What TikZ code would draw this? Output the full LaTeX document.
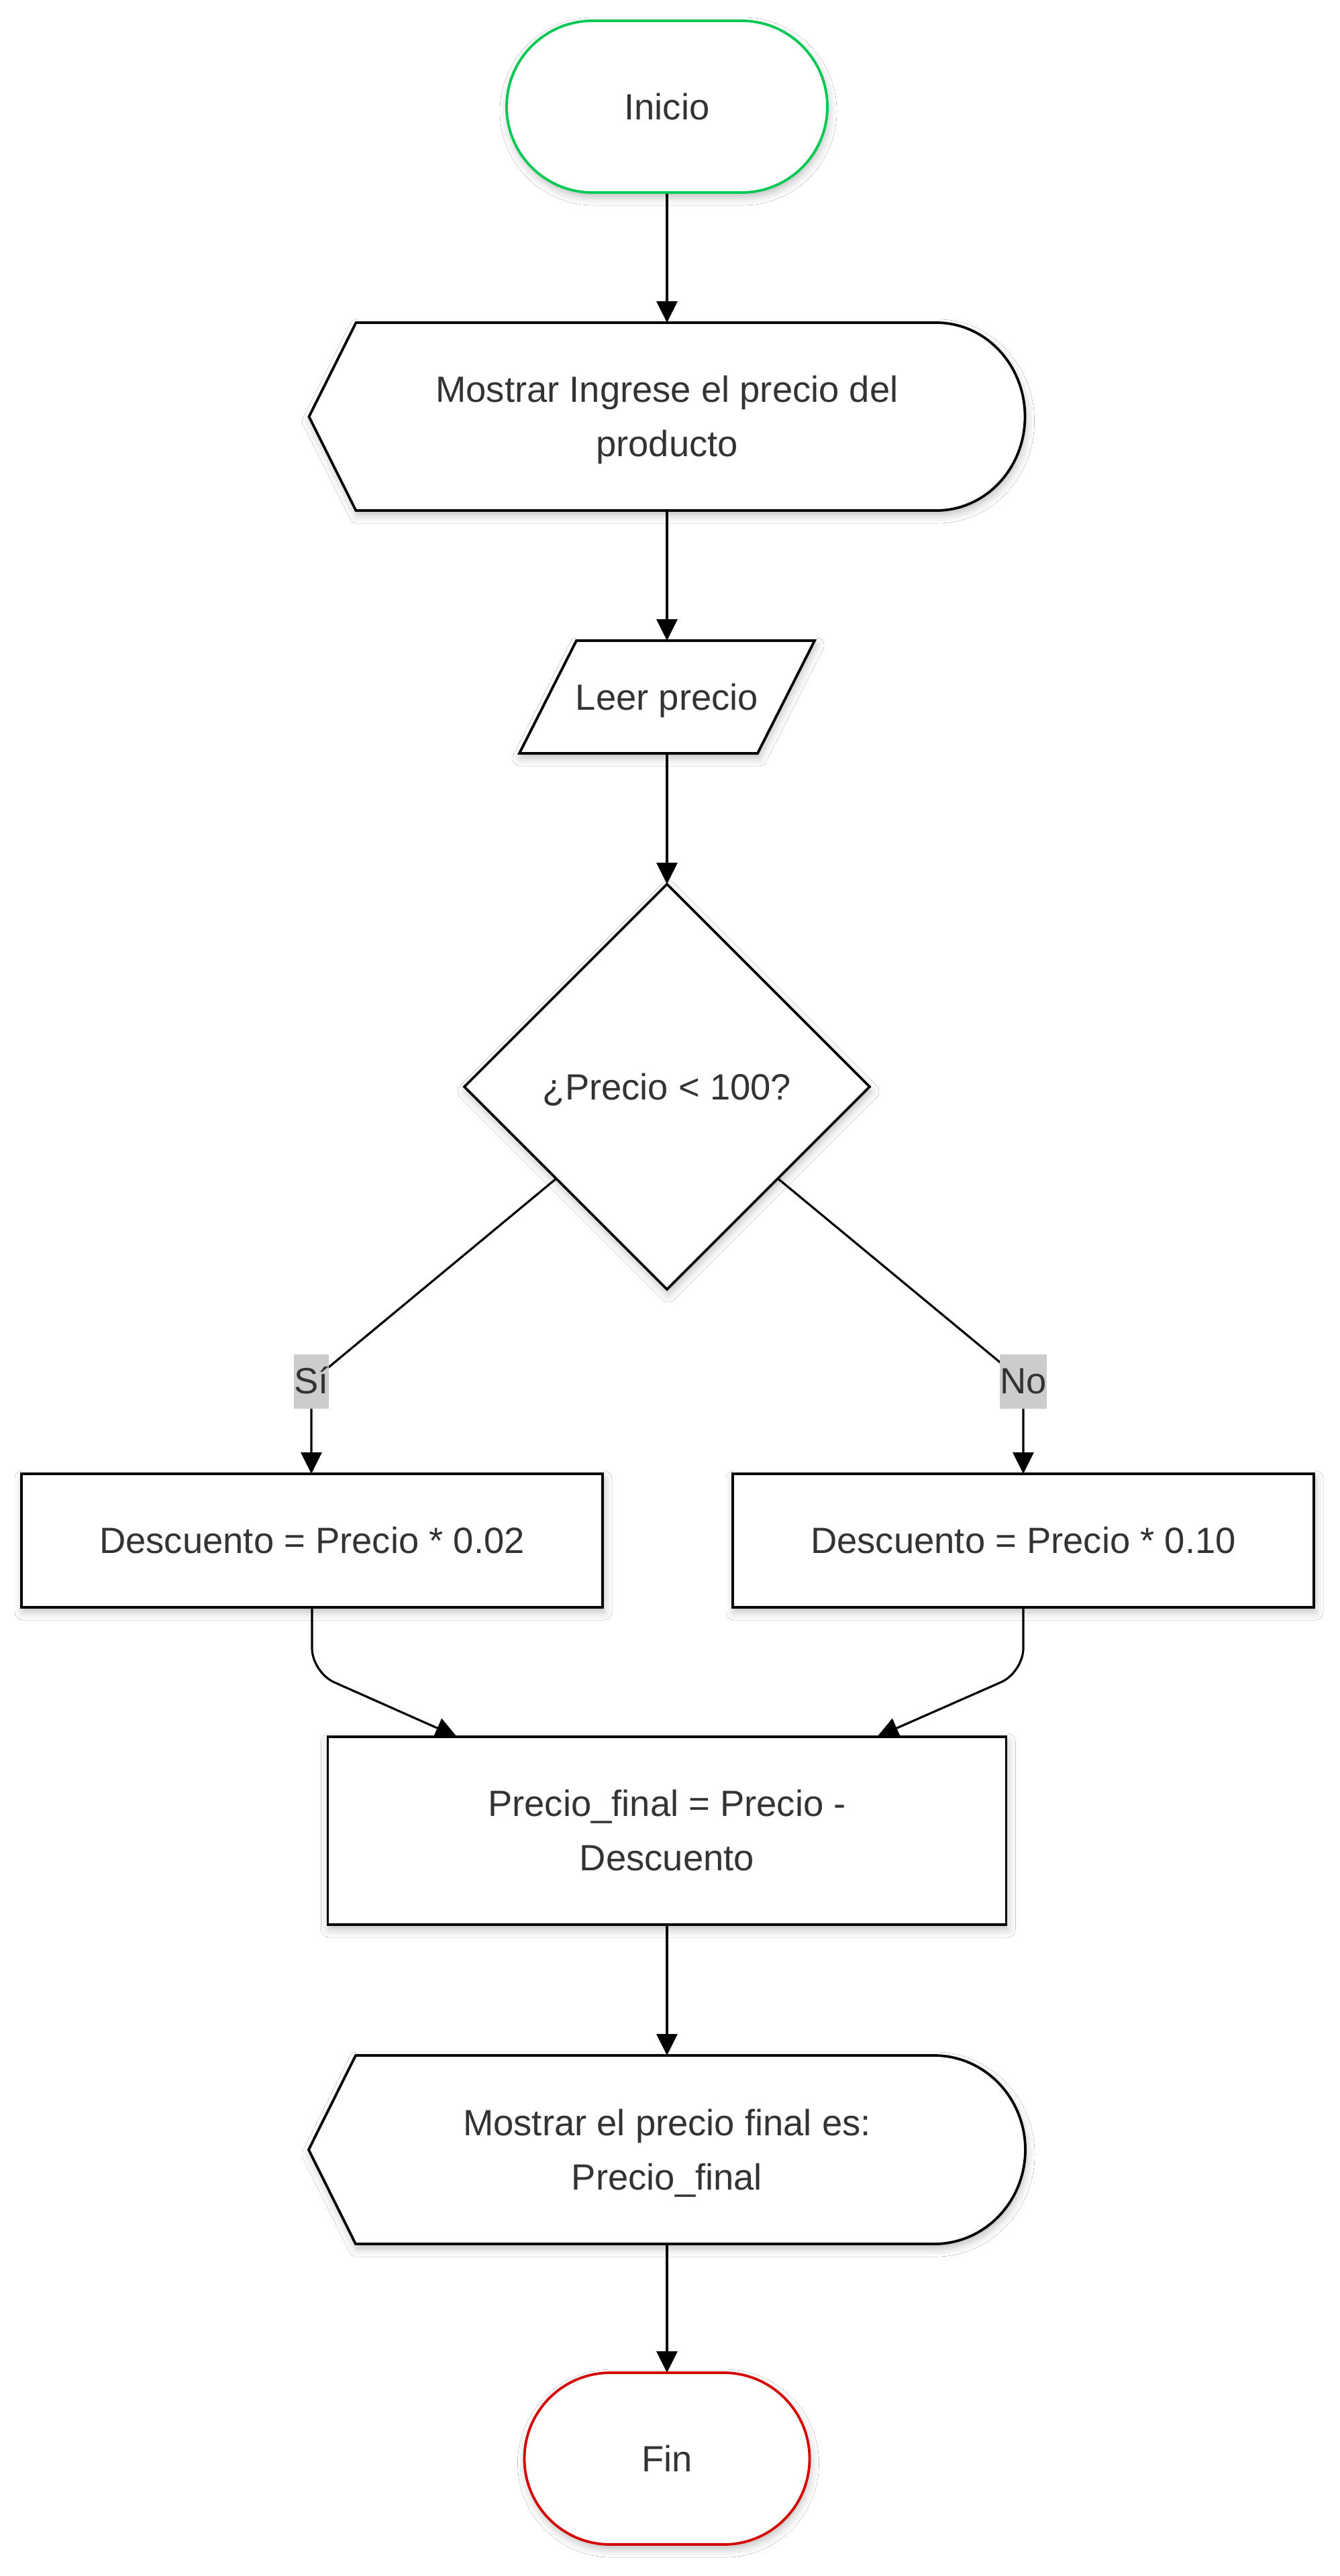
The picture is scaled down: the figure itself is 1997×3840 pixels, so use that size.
\documentclass[tikz,border=0pt]{standalone}
\usepackage{fontspec}
\setmainfont{Liberation Sans}
\usetikzlibrary{shapes.geometric,arrows.meta,shadows.blur,calc}
\pgfdeclarelayer{bglayer}
\pgfdeclarelayer{edgelayer}
\pgfsetlayers{bglayer,edgelayer,main}
\definecolor{txt}{HTML}{333333}
\definecolor{startc}{HTML}{00C853}
\definecolor{endc}{HTML}{D50000}
\definecolor{lblbg}{HTML}{CCCCCC}
\tikzset{
 nbase/.style={inner sep=0pt, outer sep=0pt, text=txt, font=\fontsize{27.2pt}{40.5pt}\selectfont, align=center},
 oneline/.style={text height=19.4pt, text depth=0pt},
 twoline/.style={text height=59.9pt, text depth=0pt},
 shd/.style={blur shadow={shadow xshift=1pt, shadow yshift=-3.5pt, shadow blur radius=6pt, shadow opacity=25}},
 term/.style={nbase, oneline, draw, line width=1.9pt, fill=white, rounded corners=64pt, shd},
 proc/.style={nbase, draw=black, line width=1.9pt, fill=white, shd},
 shapeoutline/.style={draw=black, line width=1.9pt, fill=white, line join=miter, shd},
 decision/.style={nbase, oneline, shape=diamond, aspect=1, draw=black, line width=1.9pt, fill=white, shd},
 conn/.style={draw=black, line width=1.6pt, -{Triangle[length=16pt,width=15.5pt]}},
 lbl/.style={nbase, fill=lblbg, text height=29pt, text depth=11.5pt},
}
\begin{document}
\begin{tikzpicture}[x=0.5pt,y=-0.5pt]
\useasboundingbox (0,0) rectangle (1997,3840);

% nodes
\node[term, draw=startc, minimum width=239pt, minimum height=128pt] (start) at (994,159) {Inicio};
\node[nbase, twoline, minimum width=533.5pt, minimum height=140pt] (d1) at (994,621) {Mostrar Ingrese el precio del\\producto};
\node[nbase, oneline, minimum width=220pt, minimum height=84pt] (leer) at (994,1039) {Leer precio};
\node[decision, minimum width=302pt, minimum height=302pt] (dec) at (994,1620) {¿Precio < 100?};
\node[proc, oneline, minimum width=433pt, minimum height=99.5pt] (b1) at (465,2296.5) {Descuento = Precio * 0.02};
\node[proc, oneline, minimum width=433pt, minimum height=99.5pt] (b2) at (1525,2296.5) {Descuento = Precio * 0.10};
\node[proc, twoline, minimum width=505.5pt, minimum height=140pt] (merge) at (994,2729) {Precio\textunderscore final = Precio -\\Descuento};
\node[nbase, twoline, minimum width=534pt, minimum height=140.5pt] (d2) at (994,3204.5) {Mostrar el precio final es:\\Precio\textunderscore final};
\node[term, draw=endc, minimum width=212.5pt, minimum height=128pt] (fin) at (994,3665) {Fin};

% background and outlines of display / input shapes
\begin{pgfonlayer}{bglayer}
\fill[white] (0,0) rectangle (1997,3840);
\path[shapeoutline] ([xshift=35pt]d1.north west) -- ([xshift=-66pt]d1.north east)
  arc[start angle=90, end angle=-90, x radius=66pt, y radius=70pt]
  -- ([xshift=35pt]d1.south west) -- (d1.west) -- cycle;
\path[shapeoutline] ([xshift=42.5pt]leer.north west) -- (leer.north east)
  -- ([xshift=-42.5pt]leer.south east) -- (leer.south west) -- cycle;
\path[shapeoutline] ([xshift=35pt]d2.north west) -- ([xshift=-68pt]d2.north east)
  arc[start angle=90, end angle=-90, x radius=68pt, y radius=70.25pt]
  -- ([xshift=35pt]d2.south west) -- (d2.west) -- cycle;
\end{pgfonlayer}

% connectors
\coordinate (sj) at (464,2059.5);
\coordinate (nj) at (1525,2059.5);
\begin{pgfonlayer}{edgelayer}
\draw[conn] (start.south) -- (d1.north);
\draw[conn] (d1.south) -- (leer.north);
\draw[conn] (leer.south) -- (dec.north);
\draw[conn] (dec) -- (sj) -- (sj |- b1.north);
\draw[conn] (dec) -- (nj) -- (nj |- b2.north);
\draw[conn, rounded corners=18pt] (b1.south) -- ++(0,97) -- ([xshift=-156.5pt]merge.north);
\draw[conn, rounded corners=18pt] (b2.south) -- ++(0,97) -- ([xshift=156.5pt]merge.north);
\draw[conn] (merge.south) -- (d2.north);
\draw[conn] (d2.south) -- (fin.north);
\end{pgfonlayer}

% edge labels
\node[lbl] (ls) at (sj) {Sí};
\node[lbl] (ln) at (nj) {No};
\end{tikzpicture}
\end{document}
